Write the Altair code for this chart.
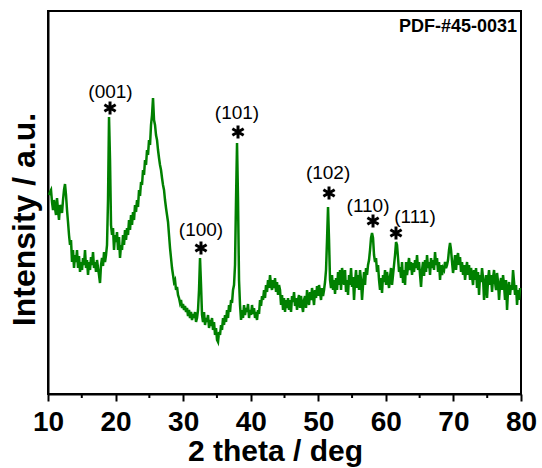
import altair as alt
import numpy as np
import pandas as pd

# XRD pattern intensity (a.u.), uniform 2-theta step
intensity = [
    205, 208, 210, 198, 190, 200, 192, 185, 202, 190, 180, 195, 192, 187, 200, 210,
    216, 205, 190, 178, 165, 155, 160, 138, 150, 132, 145, 138, 150, 132, 144, 128,
    138, 130, 142, 135, 150, 132, 140, 125, 138, 130, 143, 135, 148, 132, 138, 128,
    140, 132, 125, 117, 135, 142, 134, 148, 138, 145, 155, 200, 283, 240, 175, 165,
    172, 150, 165, 158, 168, 150, 163, 142, 155, 150, 165, 155, 170, 160, 172, 165,
    180, 170, 185, 175, 188, 180, 195, 188, 200, 193, 210, 204, 218, 215, 230, 225,
    240, 235, 250, 245, 260, 255, 275, 285, 302, 280, 275, 265, 260, 250, 242, 235,
    230, 222, 215, 210, 200, 192, 185, 178, 165, 152, 142, 132, 125, 118, 120, 110,
    113, 105, 102, 97, 100, 92, 96, 90, 94, 88, 92, 84, 90, 82, 88, 80,
    86, 82, 88, 78, 82, 90, 110, 142, 115, 85, 78, 88, 75, 82, 78, 85,
    72, 80, 74, 82, 70, 78, 65, 72, 60, 58, 68, 65, 75, 70, 82, 75,
    85, 78, 90, 82, 95, 88, 100, 97, 110, 115, 135, 200, 257, 200, 120, 95,
    80, 90, 82, 95, 85, 92, 88, 96, 82, 90, 85, 95, 86, 92, 82, 88,
    80, 90, 86, 100, 94, 104, 100, 110, 102, 115, 108, 120, 112, 125, 115, 110,
    120, 112, 122, 108, 118, 105, 115, 110, 95, 105, 90, 102, 88, 100, 92, 102,
    90, 100, 88, 104, 98, 108, 94, 102, 90, 100, 105, 92, 104, 95, 88, 100,
    104, 92, 110, 100, 95, 108, 100, 112, 104, 95, 110, 102, 114, 104, 115, 108,
    100, 112, 104, 110, 118, 130, 160, 193, 160, 120, 112, 125, 110, 120, 106, 122,
    110, 128, 115, 130, 110, 132, 125, 115, 130, 108, 120, 105, 125, 115, 132, 113,
    123, 100, 118, 130, 112, 125, 110, 130, 120, 100, 115, 128, 115, 132, 125, 135,
    140, 150, 162, 167, 162, 145, 138, 142, 128, 135, 120, 110, 122, 107, 125, 118,
    130, 115, 128, 120, 112, 123, 132, 115, 125, 135, 145, 158, 155, 142, 128, 133,
    122, 138, 117, 130, 115, 138, 125, 134, 142, 130, 138, 125, 137, 128, 140, 132,
    145, 130, 138, 125, 113, 130, 138, 124, 140, 128, 145, 132, 138, 125, 142, 132,
    140, 130, 148, 135, 142, 128, 138, 120, 135, 125, 132, 130, 138, 132, 135, 140,
    150, 157, 150, 138, 127, 135, 145, 130, 142, 147, 135, 143, 128, 138, 125, 135,
    120, 130, 138, 125, 135, 120, 132, 124, 115, 130, 120, 132, 112, 128, 105, 125,
    118, 132, 122, 100, 115, 125, 102, 120, 130, 115, 125, 108, 122, 130, 118, 110,
    127, 118, 100, 115, 122, 110, 125, 115, 100, 120, 90, 110, 118, 105, 115, 110,
    130, 118, 105, 115, 95, 110, 100, 112,
]
two_theta_start = 10.15
two_theta_step = 0.148
two_theta = np.round(two_theta_start + two_theta_step * np.arange(len(intensity)), 3)

# peak annotations
peak_labels = ["(001)", "(100)", "(101)", "(102)", "(110)", "(111)"]
star_x = [19.18, 32.64, 38.12, 51.59, 58.10, 61.50]
star_y = [292, 152, 268, 207, 179, 167]
label_x = [19.25, 32.64, 37.97, 51.45, 57.36, 64.31]
label_y = [308, 170, 287, 227, 194, 183]

x_ticks = [10, 20, 30, 40, 50, 60, 70, 80]
minor_ticks = [15, 25, 35, 45, 55, 65, 75]

FONT = "Liberation Sans"

df = pd.DataFrame({"two_theta": two_theta, "intensity": intensity})
peaks = pd.DataFrame({"sx": star_x, "sy": star_y, "lx": label_x, "ly": label_y, "label": peak_labels})
minor = pd.DataFrame({"t": minor_ticks})
pdf = pd.DataFrame({"x": [79.41], "y": [368], "text": ["PDF-#45-0031"]})

xscale = alt.Scale(domain=[10, 80], nice=False, zero=False)
yscale = alt.Scale(domain=[6, 389], nice=False, zero=False)

xaxis = alt.Axis(
    values=x_ticks, title="2 theta / deg", grid=False,
    domainColor="black", domainWidth=2, tickColor="black", tickWidth=2, tickSize=7,
    labelFont=FONT, labelFontSize=28, labelFontWeight="bold", labelColor="black",
    labelBaseline="alphabetic", labelPadding=29, labelFlush=False, labelOverlap=False,
    titleFont=FONT, titleFontSize=30, titleFontWeight="bold", titleColor="black",
    titleX=227, titleY=66, titleAlign="center", titleBaseline="alphabetic",
)
yaxis = alt.Axis(
    title="Intensity / a.u.", labels=False, ticks=False, grid=False,
    domainColor="black", domainWidth=2,
    titleFont=FONT, titleFontSize=32, titleFontWeight="bold", titleColor="black",
    titleAngle=270, titleX=-24, titleY=208, titleAlign="center", titleBaseline="middle",
)

line = alt.Chart(df).mark_line(color="#008000", strokeWidth=2.5).encode(
    x=alt.X("two_theta:Q", scale=xscale, axis=xaxis),
    y=alt.Y("intensity:Q", scale=yscale, axis=yaxis),
)

minor_rules = alt.Chart(minor).mark_rule(color="black", strokeWidth=2).encode(
    x=alt.X("t:Q", scale=xscale),
    y=alt.value(383),
    y2=alt.value(387),
)

star_path = "M0,-1L0,1M-0.866,-0.5L0.866,0.5M-0.866,0.5L0.866,-0.5"
stars = alt.Chart(peaks).mark_point(
    shape=star_path, filled=False, color="black", strokeWidth=3, size=170, opacity=1
).encode(
    x=alt.X("sx:Q", scale=xscale),
    y=alt.Y("sy:Q", scale=yscale),
)

labels = alt.Chart(peaks).mark_text(
    font=FONT, fontSize=19, color="black", align="center", baseline="middle"
).encode(
    x=alt.X("lx:Q", scale=xscale),
    y=alt.Y("ly:Q", scale=yscale),
    text="label:N",
)

pdf_text = alt.Chart(pdf).mark_text(
    font=FONT, fontSize=18, fontWeight="bold", color="black", align="right", baseline="alphabetic"
).encode(
    x=alt.X("x:Q", scale=xscale),
    y=alt.Y("y:Q", scale=yscale),
    text="text:N",
)

chart = alt.layer(line, minor_rules, stars, labels, pdf_text).properties(
    width=473, height=383,
    autosize=alt.AutoSizeParams(type="none"),
    padding={"left": 48, "top": 11, "right": 21, "bottom": 74},
    background="white",
).configure_view(stroke="black", strokeWidth=2)

chart.save("out.html", embed_options={"renderer": "svg", "actions": False})
